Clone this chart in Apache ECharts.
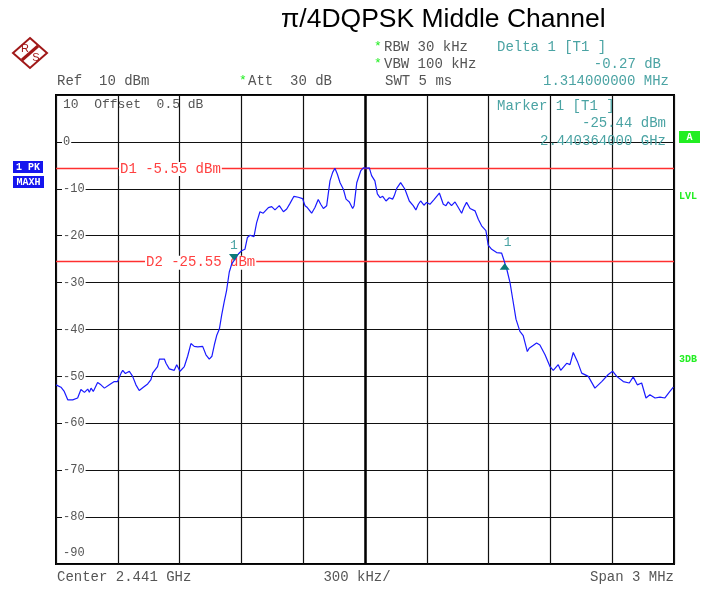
<!DOCTYPE html>
<html>
<head>
<meta charset="utf-8">
<script src="https://cdn.jsdelivr.net/npm/echarts@6/dist/echarts.min.js"></script>
<style>
  html, body { margin: 0; padding: 0; background: #fff; }
  #chart { width: 704px; height: 589px; }
</style>
</head>
<body>
<div id="chart"></div>
<script>
// trace: frequency offset from center (kHz) and level (dBm)
var freqKHz = [
  -1500, -1476, -1460, -1443, -1419, -1395, -1379, -1362, -1346, -1338, -1330, -1319,
  -1298, -1282, -1265, -1241, -1217, -1201, -1184, -1176, -1163, -1144, -1128, -1112,
  -1096, -1076, -1055, -1039, -1031, -1007, -998, -974, -966, -950, -926, -914,
  -898, -877, -861, -845, -829, -812, -788, -772, -756, -743, -731, -720,
  -707, -696, -684, -672, -659, -647, -631, -615, -599, -583, -571, -558,
  -539, -526, -510, -494, -469, -453, -437, -416, -396, -380, -364, -345,
  -324, -303, -291, -280, -259, -243, -227, -215, -202, -186, -170, -157,
  -146, -134, -121, -105, -92, -76, -60, -53, -40, -21, -8, 8,
  21, 32, 48, 60, 73, 86, 102, 118, 134, 142, 154, 173,
  194, 215, 234, 247, 259, 270, 286, 299, 315, 335, 361, 380,
  393, 404, 420, 437, 453, 469, 480, 493, 510, 534, 550, 566,
  587, 598, 615, 639, 663, 675, 688, 704, 717, 733, 752, 768,
  788, 797, 833, 849, 874, 898, 914, 938, 950, 979, 995, 1011,
  1031, 1052, 1084, 1116, 1149, 1181, 1202, 1222, 1254, 1283, 1302, 1322,
  1343, 1364, 1383, 1408, 1432, 1456, 1480, 1497
];
var levelDbm = [
  -51.8, -52.3, -53.2, -55.0, -55.0, -54.6, -52.8, -53.4, -52.7, -53.4, -52.5, -53.2,
  -51.3, -51.8, -52.5, -51.8, -51.1, -51.1, -49.3, -48.7, -49.4, -48.9, -50.0, -51.8,
  -53.0, -52.3, -51.6, -50.7, -49.3, -47.9, -46.3, -46.3, -47.2, -48.4, -48.7, -47.5,
  -48.9, -47.9, -45.7, -43.0, -43.6, -43.7, -43.6, -45.4, -46.3, -45.7, -43.2, -41.3,
  -39.9, -37.0, -34.2, -31.7, -27.8, -26.0, -25.0, -23.9, -23.2, -22.9, -20.4, -19.9,
  -20.2, -17.2, -14.9, -15.2, -14.0, -13.8, -14.5, -13.6, -14.9, -14.3, -13.1, -11.6,
  -11.8, -12.1, -13.6, -14.0, -15.2, -14.0, -12.3, -13.3, -14.2, -13.6, -8.3, -6.5,
  -5.6, -6.9, -8.7, -10.1, -12.2, -12.8, -14.2, -13.6, -8.7, -6.2, -5.55, -5.6,
  -5.55, -7.2, -8.3, -11.1, -11.9, -11.6, -12.6, -11.9, -12.2, -11.5, -9.9, -8.7,
  -10.1, -12.6, -13.6, -14.5, -13.3, -12.6, -13.5, -12.9, -13.3, -12.3, -10.9, -13.3,
  -13.6, -12.8, -13.6, -12.8, -14.0, -15.2, -14.0, -12.9, -14.2, -14.7, -16.5, -17.9,
  -18.9, -22.0, -22.9, -23.6, -23.7, -25.3, -27.1, -30.0, -33.5, -37.8, -40.4, -41.3,
  -44.7, -44.0, -42.9, -43.3, -45.4, -47.9, -48.7, -47.5, -48.7, -47.2, -47.5, -44.9,
  -46.8, -49.3, -50.0, -52.5, -51.1, -49.6, -48.9, -50.0, -51.1, -51.4, -50.1, -51.8,
  -51.4, -54.6, -53.9, -54.6, -54.4, -54.6, -53.2, -52.3
];

// markers: marker 1 and delta 1
var markerFreq = [-636, 678];
var markerLevel = [-25.44, -25.71];

// display lines
var lineNames = ['D1', 'D2'];
var lineLevels = [-5.55, -25.55];

var mono = '"Liberation Mono", "DejaVu Sans Mono", monospace';
var grey = '#555';
var teal = '#4aa3a3';
var green = '#22ee22';
var logoRed = '#a01818';

var trace = freqKHz.map(function (f, i) { return [f, levelDbm[i]]; });

var chart = echarts.init(document.getElementById('chart'));

chart.setOption({
  animation: false,
  grid: {
    left: 56, top: 95, width: 618, height: 469,
    show: true, borderColor: '#000', borderWidth: 2, backgroundColor: '#fff'
  },
  xAxis: {
    type: 'value', min: -1500, max: 1500, interval: 300,
    axisLine: { show: false }, axisTick: { show: false }, axisLabel: { show: false },
    splitLine: { show: true, lineStyle: { color: '#111', width: 1.2 } }
  },
  yAxis: {
    type: 'value', min: -90, max: 10, interval: 10,
    axisLine: { show: false }, axisTick: { show: false },
    axisLabel: {
      inside: true, margin: 6, color: grey, fontFamily: mono, fontSize: 12,
      backgroundColor: '#fff', padding: [0, 1],
      formatter: function (v) { return (v === 10 || v === -90) ? '' : String(v); }
    },
    splitLine: { show: true, lineStyle: { color: '#111', width: 1.2 } }
  },
  series: [{
    type: 'line',
    data: trace,
    showSymbol: false,
    lineStyle: { color: '#1a1aff', width: 1.2 },
    z: 5,
    markLine: {
      silent: true, symbol: 'none', z: 4,
      data: [
        { xAxis: 0, lineStyle: { color: '#000', width: 2.5, type: 'solid' }, label: { show: false } }
      ].concat(lineNames.map(function (n, i) {
        return {
          yAxis: lineLevels[i],
          lineStyle: { color: '#ff3030', width: 1.3, type: 'solid' },
          label: {
            show: true, position: 'insideStartTop',
            distance: [i === 0 ? 63 : 89, -8],
            formatter: n + ' ' + lineLevels[i].toFixed(2) + ' dBm',
            color: '#ff4040', fontFamily: mono, fontSize: 14,
            backgroundColor: '#fff', padding: [0, 1]
          }
        };
      }))
    },
    markPoint: {
      silent: true, z: 12,
      data: [
        {
          coord: [markerFreq[0], markerLevel[0]], symbol: 'path://M0,0L10,0L5,8Z',
          symbolSize: [10, 8], symbolOffset: [0, -4], symbolKeepAspect: true,
          itemStyle: { color: '#0b7a7a' },
          label: { show: true, position: 'top', distance: 2, formatter: '1', color: teal, fontFamily: mono, fontSize: 13 }
        },
        {
          coord: [markerFreq[1], markerLevel[1]], symbol: 'path://M5,0L10,8L0,8Z',
          symbolSize: [10, 8], symbolOffset: [0, 4], symbolKeepAspect: true,
          itemStyle: { color: '#0b7a7a' },
          label: { show: true, position: 'top', distance: 8, offset: [3, -6], formatter: '1', color: teal, fontFamily: mono, fontSize: 13 }
        }
      ]
    }
  }],
  graphic: [
    { type: 'text', x: 281, y: 6, style: { text: 'π/4DQPSK Middle Channel', fill: '#000', font: '26.5px "Liberation Sans", Arial, sans-serif' } },
    // R&S logo
    { type: 'group', x: 30, y: 53, children: [
      { type: 'polygon', shape: { points: [[0, -15], [17, 0], [0, 15], [-17, 0]] }, style: { fill: 'none', stroke: logoRed, lineWidth: 2 } },
      { type: 'line', shape: { x1: -8, y1: 7, x2: 8, y2: -7 }, style: { stroke: logoRed, lineWidth: 3 } },
      { type: 'text', x: -5, y: -4, style: { text: 'R', fill: logoRed, font: '11px "Liberation Sans", sans-serif', align: 'center', verticalAlign: 'middle' } },
      { type: 'text', x: 6, y: 5, style: { text: 'S', fill: logoRed, font: '11px "Liberation Sans", sans-serif', align: 'center', verticalAlign: 'middle' } }
    ] },
    // header
    { type: 'text', x: 374, y: 40, style: { text: '*', fill: green, font: '13px ' + mono } },
    { type: 'text', x: 384, y: 40, style: { text: 'RBW 30 kHz', fill: grey, font: '14px ' + mono } },
    { type: 'text', x: 497, y: 40, style: { text: 'Delta 1 [T1 ]', fill: teal, font: '14px ' + mono } },
    { type: 'text', x: 374, y: 57, style: { text: '*', fill: green, font: '13px ' + mono } },
    { type: 'text', x: 384, y: 57, style: { text: 'VBW 100 kHz', fill: grey, font: '14px ' + mono } },
    { type: 'text', x: 661, y: 57, style: { text: '-0.27 dB', fill: teal, font: '14px ' + mono, align: 'right' } },
    { type: 'text', x: 57, y: 74, style: { text: 'Ref  10 dBm', fill: grey, font: '14px ' + mono } },
    { type: 'text', x: 239, y: 74, style: { text: '*', fill: green, font: '13px ' + mono } },
    { type: 'text', x: 248, y: 74, style: { text: 'Att  30 dB', fill: grey, font: '14px ' + mono } },
    { type: 'text', x: 385, y: 74, style: { text: 'SWT 5 ms', fill: grey, font: '14px ' + mono } },
    { type: 'text', x: 669, y: 74, style: { text: '1.314000000 MHz', fill: teal, font: '14px ' + mono, align: 'right' } },
    // inside plot
    { type: 'text', x: 63, y: 98, z: 10, style: { text: '10  Offset  0.5 dB', fill: grey, font: '13px ' + mono } },
    { type: 'text', x: 497, y: 99, z: 10, style: { text: 'Marker 1 [T1 ]', fill: teal, font: '14px ' + mono } },
    { type: 'text', x: 666, y: 116, z: 10, style: { text: '-25.44 dBm', fill: teal, font: '14px ' + mono, align: 'right' } },
    { type: 'text', x: 666, y: 134, z: 10, style: { text: '2.440364000 GHz', fill: teal, font: '14px ' + mono, align: 'right' } },
    { type: 'text', x: 63, y: 547, z: 10, style: { text: '-90', fill: grey, font: '12px ' + mono } },
    // left status boxes
    { type: 'rect', shape: { x: 13, y: 161, width: 30, height: 12 }, style: { fill: '#1515ee' } },
    { type: 'text', x: 28, y: 167, style: { text: '1 PK', fill: '#fff', font: 'bold 10px ' + mono, align: 'center', verticalAlign: 'middle' } },
    { type: 'rect', shape: { x: 13, y: 176, width: 31, height: 12 }, style: { fill: '#1515ee' } },
    { type: 'text', x: 28.5, y: 182, style: { text: 'MAXH', fill: '#fff', font: 'bold 10px ' + mono, align: 'center', verticalAlign: 'middle' } },
    // right status
    { type: 'rect', shape: { x: 679, y: 131, width: 21, height: 12 }, style: { fill: green } },
    { type: 'text', x: 689.5, y: 137, style: { text: 'A', fill: '#fff', font: 'bold 10px ' + mono, align: 'center', verticalAlign: 'middle' } },
    { type: 'text', x: 679, y: 191, style: { text: 'LVL', fill: green, font: 'bold 10px ' + mono } },
    { type: 'text', x: 679, y: 354, style: { text: '3DB', fill: green, font: 'bold 10px ' + mono } },
    // footer
    { type: 'text', x: 57, y: 570, style: { text: 'Center 2.441 GHz', fill: grey, font: '14px ' + mono } },
    { type: 'text', x: 357, y: 570, style: { text: '300 kHz/', fill: grey, font: '14px ' + mono, align: 'center' } },
    { type: 'text', x: 674, y: 570, style: { text: 'Span 3 MHz', fill: grey, font: '14px ' + mono, align: 'right' } }
  ]
});
</script>
</body>
</html>
